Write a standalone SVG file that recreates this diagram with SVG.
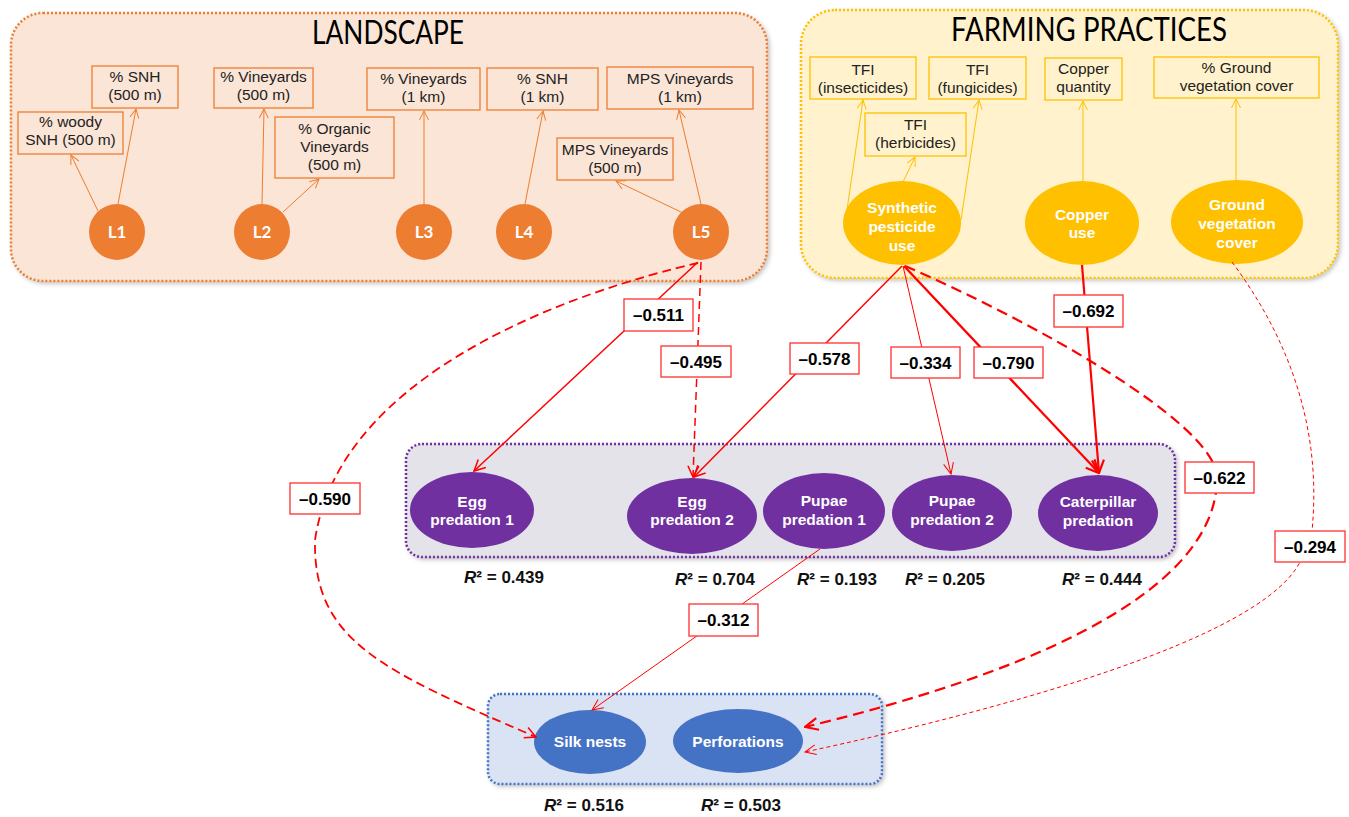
<svg xmlns="http://www.w3.org/2000/svg" width="1349" height="817" viewBox="0 0 1349 817">
<defs>
<style>
.bt{font-family:"Liberation Sans",Arial,sans-serif;font-size:15.5px;fill:#222;text-anchor:middle}
.wt{font-family:"Liberation Sans",Arial,sans-serif;font-size:15.5px;font-weight:bold;fill:#fff;text-anchor:middle}
.lt{font-family:Lato,"Open Sans",sans-serif;font-size:17px;font-weight:bold;fill:#fff;text-anchor:middle}
.title{font-family:Lato,"Open Sans",sans-serif;font-size:32px;fill:#000;text-anchor:middle}
.lab{font-family:"Liberation Sans",Arial,sans-serif;font-size:17px;font-weight:bold;fill:#000;text-anchor:middle}
.r2{font-family:"Liberation Sans",Arial,sans-serif;font-size:17px;font-weight:bold;fill:#111;text-anchor:middle}
.ob{fill:none;stroke:#ED7D31;stroke-width:1.3}
.yb{fill:none;stroke:#FFC000;stroke-width:1.3}
.oa{stroke:#ED7D31;stroke-width:1;fill:none;marker-end:url(#ao)}
.ya{stroke:#FFC000;stroke-width:1;fill:none;marker-end:url(#ay)}
.lb{fill:#fff;stroke:#FF3030;stroke-width:1.3}
.red{stroke:#FF0000;fill:none}
</style>
<marker id="ao" markerUnits="userSpaceOnUse" markerWidth="12" markerHeight="12" viewBox="0 0 12 12" refX="11" refY="6" orient="auto"><path d="M2,1.5 L11,6 L2,10.5" fill="none" stroke="#ED7D31" stroke-width="1"/></marker>
<marker id="ay" markerUnits="userSpaceOnUse" markerWidth="12" markerHeight="12" viewBox="0 0 12 12" refX="11" refY="6" orient="auto"><path d="M2,1.5 L11,6 L2,10.5" fill="none" stroke="#FFC000" stroke-width="1"/></marker>
<marker id="ar" markerUnits="userSpaceOnUse" markerWidth="14" markerHeight="14" viewBox="0 0 14 14" refX="13" refY="7" orient="auto"><path d="M2,1.5 L13,7 L2,12.5" fill="none" stroke="#FF0000" stroke-width="1.5"/></marker>
<marker id="art" markerUnits="userSpaceOnUse" markerWidth="14" markerHeight="14" viewBox="0 0 14 14" refX="13" refY="7" orient="auto"><path d="M2,2 L13,7 L2,12" fill="none" stroke="#FF0000" stroke-width="1"/></marker>
<marker id="arb" markerUnits="userSpaceOnUse" markerWidth="16" markerHeight="16" viewBox="0 0 16 16" refX="15" refY="8" orient="auto"><path d="M2,2 L15,8 L2,14" fill="none" stroke="#FF0000" stroke-width="2.2"/></marker>
<filter id="sh" x="-5%" y="-5%" width="110%" height="115%"><feDropShadow dx="2" dy="2" stdDeviation="2" flood-color="#000" flood-opacity="0.25"/></filter>
</defs>
<rect width="1349" height="817" fill="#fff"/>

<g id="landscape">
<rect x="11" y="13" width="756" height="268" rx="32" fill="#FBE5D6" stroke="#ED7D31" stroke-width="2.5" stroke-dasharray="2 2" filter="url(#sh)"/>
<text class="title" x="388" y="44" textLength="152" lengthAdjust="spacingAndGlyphs">LANDSCAPE</text>
</g>
<g id="farming">
<rect x="801" y="10" width="537" height="268" rx="34" fill="#FFF2CC" stroke="#FFC000" stroke-width="2.5" stroke-dasharray="2 2" filter="url(#sh)"/>
<text class="title" x="1089" y="41" textLength="276" lengthAdjust="spacingAndGlyphs">FARMING PRACTICES</text>
</g>
<g id="predation">
<rect x="406" y="444" width="769" height="113" rx="16" fill="#E3E3E9" stroke="#7030A0" stroke-width="2.5" stroke-dasharray="2 2" filter="url(#sh)"/>
</g>
<g id="damage">
<rect x="488" y="694" width="394" height="90" rx="12" fill="#DAE3F3" stroke="#4472C4" stroke-width="2.5" stroke-dasharray="2 2" filter="url(#sh)"/>
</g>

<g id="ind-snh500"><rect class="ob" x="92" y="66" width="86" height="42"/><text class="bt" x="135" y="82">% SNH</text><text class="bt" x="135" y="100">(500 m)</text></g>
<g id="ind-woody"><rect class="ob" x="18" y="112" width="105" height="42"/><text class="bt" x="70.5" y="127">% woody</text><text class="bt" x="70.5" y="145">SNH (500 m)</text></g>
<g id="ind-vin500"><rect class="ob" x="214" y="68" width="99" height="40"/><text class="bt" x="263.5" y="82">% Vineyards</text><text class="bt" x="263.5" y="100">(500 m)</text></g>
<g id="ind-org"><rect class="ob" x="275" y="117" width="119" height="61"/><text class="bt" x="334.5" y="133.5">% Organic</text><text class="bt" x="334.5" y="151.5">Vineyards</text><text class="bt" x="334.5" y="170">(500 m)</text></g>
<g id="ind-vin1k"><rect class="ob" x="367" y="68" width="113" height="42"/><text class="bt" x="423.5" y="84">% Vineyards</text><text class="bt" x="423.5" y="102">(1 km)</text></g>
<g id="ind-snh1k"><rect class="ob" x="487" y="68" width="111" height="42"/><text class="bt" x="542.5" y="84">% SNH</text><text class="bt" x="542.5" y="102">(1 km)</text></g>
<g id="ind-mps1k"><rect class="ob" x="607" y="67" width="146" height="42"/><text class="bt" x="680" y="84">MPS Vineyards</text><text class="bt" x="680" y="102">(1 km)</text></g>
<g id="ind-mps500"><rect class="ob" x="557" y="138" width="116" height="42"/><text class="bt" x="615" y="155">MPS Vineyards</text><text class="bt" x="615" y="173">(500 m)</text></g>

<g id="L1"><circle cx="117" cy="232" r="28" fill="#ED7D31"/><text class="lt" x="117" y="238">L1</text></g>
<g id="L2"><circle cx="262" cy="232" r="28" fill="#ED7D31"/><text class="lt" x="262" y="238">L2</text></g>
<g id="L3"><circle cx="424" cy="232" r="28" fill="#ED7D31"/><text class="lt" x="424" y="238">L3</text></g>
<g id="L4"><circle cx="524" cy="232" r="28" fill="#ED7D31"/><text class="lt" x="524" y="238">L4</text></g>
<g id="L5"><circle cx="701" cy="232" r="28" fill="#ED7D31"/><text class="lt" x="701" y="238">L5</text></g>

<g id="ind-tfi-ins"><rect class="yb" x="810" y="57" width="106" height="42"/><text class="bt" x="863" y="75">TFI</text><text class="bt" x="863" y="93">(insecticides)</text></g>
<g id="ind-tfi-fun"><rect class="yb" x="929" y="57" width="97" height="42"/><text class="bt" x="977.5" y="75">TFI</text><text class="bt" x="977.5" y="93">(fungicides)</text></g>
<g id="ind-tfi-her"><rect class="yb" x="865" y="113" width="101" height="43"/><text class="bt" x="915.5" y="130">TFI</text><text class="bt" x="915.5" y="148">(herbicides)</text></g>
<g id="ind-copper"><rect class="yb" x="1045" y="58" width="77" height="42"/><text class="bt" x="1083.5" y="74">Copper</text><text class="bt" x="1083.5" y="92">quantity</text></g>
<g id="ind-ground"><rect class="yb" x="1154" y="57" width="165" height="41"/><text class="bt" x="1236.5" y="73">% Ground</text><text class="bt" x="1236.5" y="91">vegetation cover</text></g>

<g id="synthetic"><ellipse cx="902" cy="223" rx="59" ry="42" fill="#FFC000"/><text class="wt" x="902" y="213">Synthetic</text><text class="wt" x="902" y="232">pesticide</text><text class="wt" x="902" y="251">use</text></g>
<g id="copper"><ellipse cx="1082" cy="223" rx="57" ry="42" fill="#FFC000"/><text class="wt" x="1082" y="220">Copper</text><text class="wt" x="1082" y="238">use</text></g>
<g id="ground"><ellipse cx="1237" cy="222" rx="66" ry="42" fill="#FFC000"/><text class="wt" x="1237" y="210">Ground</text><text class="wt" x="1237" y="229">vegetation</text><text class="wt" x="1237" y="248">cover</text></g>

<g id="egg1"><ellipse cx="472" cy="510" rx="62" ry="38" fill="#7030A0"/><text class="wt" x="472" y="507">Egg</text><text class="wt" x="472" y="525">predation 1</text></g>
<g id="egg2"><ellipse cx="692" cy="516" rx="65" ry="38" fill="#7030A0"/><text class="wt" x="692" y="507">Egg</text><text class="wt" x="692" y="525">predation 2</text></g>
<g id="pupae1"><ellipse cx="824" cy="511" rx="61" ry="38" fill="#7030A0"/><text class="wt" x="824" y="506">Pupae</text><text class="wt" x="824" y="525">predation 1</text></g>
<g id="pupae2"><ellipse cx="952" cy="513" rx="60" ry="38" fill="#7030A0"/><text class="wt" x="952" y="506">Pupae</text><text class="wt" x="952" y="525">predation 2</text></g>
<g id="caterpillar"><ellipse cx="1098" cy="513" rx="60" ry="38" fill="#7030A0"/><text class="wt" x="1098" y="507">Caterpillar</text><text class="wt" x="1098" y="526">predation</text></g>

<g id="silk"><ellipse cx="590" cy="742" rx="56" ry="32" fill="#4472C4"/><text class="wt" x="590" y="747">Silk nests</text></g>
<g id="perf"><ellipse cx="738" cy="741" rx="65" ry="32" fill="#4472C4"/><text class="wt" x="738" y="747">Perforations</text></g>

<g id="r2">
<text class="r2" x="504" y="583"><tspan font-style="italic">R</tspan>² = 0.439</text>
<text class="r2" x="715" y="585"><tspan font-style="italic">R</tspan>² = 0.704</text>
<text class="r2" x="837" y="585"><tspan font-style="italic">R</tspan>² = 0.193</text>
<text class="r2" x="945" y="585"><tspan font-style="italic">R</tspan>² = 0.205</text>
<text class="r2" x="1102" y="585"><tspan font-style="italic">R</tspan>² = 0.444</text>
<text class="r2" x="584" y="811"><tspan font-style="italic">R</tspan>² = 0.516</text>
<text class="r2" x="741" y="811"><tspan font-style="italic">R</tspan>² = 0.503</text>
</g>

<g id="connectors">
<line class="oa" x1="98" y1="211" x2="71" y2="155"/>
<line class="oa" x1="118" y1="204" x2="136" y2="109"/>
<line class="oa" x1="262" y1="204" x2="264" y2="109"/>
<line class="oa" x1="283" y1="212" x2="319" y2="179"/>
<line class="oa" x1="424" y1="204" x2="424" y2="111"/>
<line class="oa" x1="525" y1="204" x2="543" y2="111"/>
<line class="oa" x1="681" y1="212" x2="616" y2="181"/>
<line class="oa" x1="701" y1="204" x2="679" y2="110"/>

<line class="ya" x1="847" y1="210" x2="863" y2="100"/>
<line class="ya" x1="903" y1="182" x2="915" y2="157"/>
<line class="ya" x1="961" y1="220" x2="979" y2="100"/>
<line class="ya" x1="1083" y1="181" x2="1083" y2="101"/>
<line class="ya" x1="1236" y1="180" x2="1236" y2="99"/>

<path class="red" d="M698,262 L474,471" stroke-width="1.5" marker-end="url(#ar)"/>
<path class="red" d="M701,262 L693,477" stroke-width="1.5" stroke-dasharray="8 5" marker-end="url(#ar)"/>
<path class="red" d="M698,263 C580,290 340,370 315,540 C313,640 380,670 536,737" stroke-width="1.8" stroke-dasharray="9 5" marker-end="url(#ar)"/>
<path class="red" d="M902,266 L694,477" stroke-width="1.5" marker-end="url(#ar)"/>
<path class="red" d="M903,266 L951,474" stroke-width="1" marker-end="url(#art)"/>
<path class="red" d="M904,266 L1099,473" stroke-width="2.3" marker-end="url(#arb)"/>
<path class="red" d="M905,266 C1030,320 1210,420 1217,475 C1220,600 1000,680 805,727" stroke-width="2.2" stroke-dasharray="11 6" marker-end="url(#arb)"/>
<path class="red" d="M1082,265 L1099,473" stroke-width="2.2" marker-end="url(#arb)"/>
<path class="red" d="M1232,262 C1290,340 1322,430 1312,531 L1300,562 C1260,640 1000,710 805,752" stroke-width="1" stroke-dasharray="4 3" marker-end="url(#art)"/>
<path class="red" d="M820,549 L592,710" stroke-width="1" marker-end="url(#art)"/>

<g id="lbl-511"><rect class="lb" x="624" y="299" width="69" height="32"/><text class="lab" x="658.5" y="321">–0.511</text></g>
<g id="lbl-495"><rect class="lb" x="661" y="346" width="70" height="31"/><text class="lab" x="696" y="367.5">–0.495</text></g>
<g id="lbl-590"><rect class="lb" x="290" y="483" width="70" height="31"/><text class="lab" x="325" y="504.5">–0.590</text></g>
<g id="lbl-578"><rect class="lb" x="790" y="343" width="69" height="31"/><text class="lab" x="824.5" y="364.5">–0.578</text></g>
<g id="lbl-334"><rect class="lb" x="891" y="347" width="69" height="31"/><text class="lab" x="925.5" y="368.5">–0.334</text></g>
<g id="lbl-790"><rect class="lb" x="974" y="347" width="69" height="31"/><text class="lab" x="1008.5" y="368.5">–0.790</text></g>
<g id="lbl-692"><rect class="lb" x="1054" y="295" width="69" height="32"/><text class="lab" x="1088.5" y="317">–0.692</text></g>
<g id="lbl-622"><rect class="lb" x="1185" y="462" width="69" height="31"/><text class="lab" x="1219.5" y="483.5">–0.622</text></g>
<g id="lbl-294"><rect class="lb" x="1275" y="531" width="70" height="31"/><text class="lab" x="1310" y="552.5">–0.294</text></g>
<g id="lbl-312"><rect class="lb" x="689" y="604" width="69" height="32"/><text class="lab" x="723.5" y="626">–0.312</text></g>
</g>
</svg>
